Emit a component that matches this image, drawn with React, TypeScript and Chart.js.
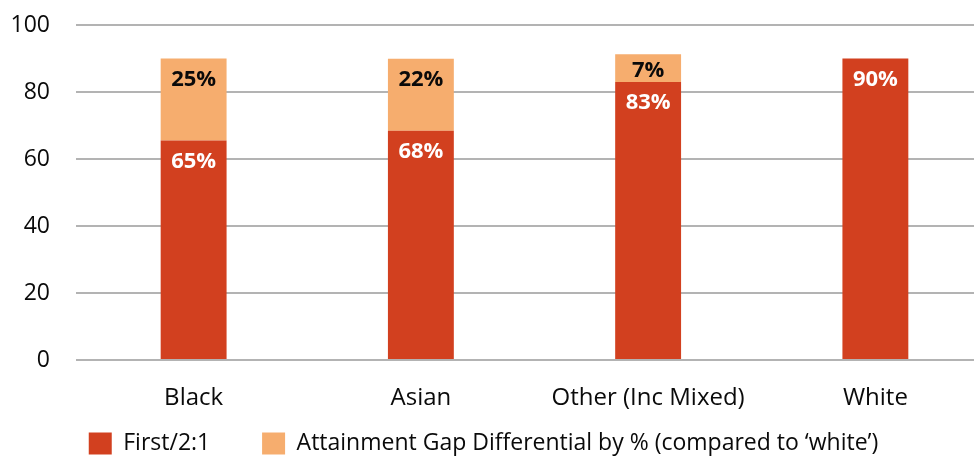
import React, { useEffect, useRef } from "react";
import { Chart, registerables } from "chart.js";

Chart.register(...registerables);

const categories = ["Black", "Asian", "Other (Inc Mixed)", "White"];
const firstValues = [65.5, 68.4, 83, 90];
const gapValues = [24.5, 21.5, 8.3, 0];
const firstLabels = ["65%", "68%", "83%", "90%"];
const gapLabels = ["25%", "22%", "7%", ""];
const seriesNames = ["First/2:1", "Attainment Gap Differential by % (compared to \u2018white\u2019)"];
const yTicks = [0, 20, 40, 60, 80, 100];

const RED = "#D2401F";
const ORANGE = "#F6AD6E";
const FONT = "'Open Sans', 'Noto Sans', sans-serif";
const TEXT = "#0a0a0a";

const labelPlugin = {
  id: "segLabels",
  afterDatasetsDraw(chart: any) {
    const ctx = chart.ctx;
    ctx.save();
    ctx.font = `bold 22px ${FONT}`;
    ctx.textAlign = "center";
    ctx.textBaseline = "middle";
    chart.data.datasets.forEach((ds: any, di: number) => {
      const meta = chart.getDatasetMeta(di);
      const texts = di === 0 ? firstLabels : gapLabels;
      ctx.fillStyle = di === 0 ? "#ffffff" : "#0a0a0a";
      meta.data.forEach((bar: any, i: number) => {
        const t = texts[i];
        if (!t) return;
        const top = Math.min(bar.y, bar.base);
        const h = Math.abs(bar.base - bar.y);
        ctx.fillText(t, bar.x, top + Math.min(21, h * 0.6));
      });
    });
    ctx.restore();
  },
};

export default function App() {
  const ref = useRef<HTMLCanvasElement | null>(null);
  useEffect(() => {
    if (!ref.current) return;
    const chart = new Chart(ref.current, {
      type: "bar",
      data: {
        labels: categories,
        datasets: [
          { label: seriesNames[0], data: firstValues, backgroundColor: RED, barPercentage: 0.29, categoryPercentage: 1 },
          { label: seriesNames[1], data: gapValues, backgroundColor: ORANGE, barPercentage: 0.29, categoryPercentage: 1 },
        ],
      },
      options: {
        responsive: false,
        animation: false,
        devicePixelRatio: 1,
        layout: { padding: { top: 25, right: 11, left: -22, bottom: -8 } },
        plugins: {
          title: { display: false },
          tooltip: { enabled: false },
          legend: {
            position: "bottom",
            labels: {
              font: { family: FONT, size: 23 },
              color: TEXT,
              boxWidth: 23,
              boxHeight: 22,
              padding: 10,
              generateLabels: (chart: any) => {
                const items = Chart.defaults.plugins.legend.labels.generateLabels(chart);
                return items.map((it: any, i: number) =>
                  i === 0 ? { ...it, text: it.text + "       " } : it
                );
              },
            },
          },
        },
        scales: {
          x: {
            stacked: true,
            grid: { display: false },
            border: { display: false },
            ticks: { font: { family: FONT, size: 24 }, color: TEXT, padding: 16 },
            afterFit: (s: any) => { s.height = 62; },
          },
          y: {
            stacked: true,
            min: 0,
            max: 100,
            afterBuildTicks: (s: any) => { s.ticks = yTicks.map((v) => ({ value: v })); },
            grid: { color: "#B3B3B3", lineWidth: 2, tickLength: 4, drawTicks: true },
            border: { display: false },
            ticks: { font: { family: FONT, size: 23 }, color: TEXT, padding: 26 },
            afterFit: (s: any) => { s.width = 102; s.paddingTop = 0; s.paddingBottom = 0; },
          },
        },
      },
      plugins: [labelPlugin],
    });
    return () => chart.destroy();
  }, []);
  return (
    <div style={{ position: "fixed", left: 0, top: 0, width: 974, height: 457, overflow: "hidden", background: "#fff" }}>
      <canvas ref={ref} width={1000} height={457} style={{ display: "block" }} />
    </div>
  );
}
